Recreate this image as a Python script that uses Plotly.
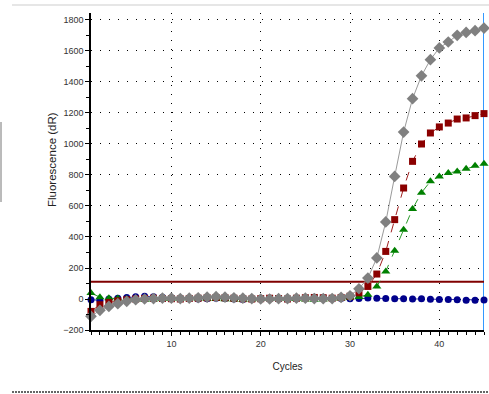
import plotly.graph_objects as go

# Amplification plot: fluorescence (dR) per cycle for four wells
cycles = list(range(1, 46))

blue_well = [-5, -8, 0, 5, 10, 15, 18, 15, 12, 8, 5, 3, 0, 2, 5, 3, 0, -3, 0, 3,
             5, 2, 0, 3, 8, 12, 10, 5, 3, 2, 4, 6, 5, 3, 2, 2, 0, 2, -2, -3,
             -3, -5, -8, -8, -6]
green_well = [38, 12, 5, 3, 0, -3, -5, -3, 0, 2, 3, 5, 3, 2, 0, -2, -3, -5, -3, 0,
              2, 3, 2, 0, -3, -5, -3, 0, 3, 8, 13, 28, 81, 178, 312, 447, 581, 686, 759, 791,
              813, 823, 841, 860, 873]
red_well = [-80, -37, -22, -12, -5, 0, 3, 5, 3, 2, 0, 3, 5, 8, 10, 8, 5, 2, 0, 2,
            5, 3, 0, 5, 8, 10, 8, 5, 10, 18, 40, 81, 161, 307, 512, 716, 888, 1000, 1071, 1110,
            1135, 1161, 1168, 1183, 1196]
gray_well = [-112, -73, -48, -30, -15, -5, 0, 3, 5, 5, 3, 5, 8, 12, 15, 12, 8, 5, 3, 0,
             0, 2, 3, 5, 5, 3, 2, 3, 10, 21, 66, 135, 265, 497, 791, 1077, 1292, 1440, 1544, 1620,
             1658, 1701, 1720, 1731, 1748]

threshold = 112
x_ticks = [10, 20, 30, 40]
y_ticks = list(range(-200, 1801, 200))

series = [
    (blue_well, "#00008b", "#3030a0", "dash", "circle", 7),
    (green_well, "#008000", "#2a9a2a", "dash", "triangle-up", 8),
    (red_well, "#8b0000", "#a02020", "dash", "square", 7),
    (gray_well, "#808080", "#9a9a9a", "solid", "diamond", 9),
]

fig = go.Figure()
for values, mcol, lcol, dash, symbol, size in series:
    fig.add_trace(go.Scatter(
        x=cycles, y=values, mode="lines+markers",
        line=dict(color=lcol, width=1, dash=dash),
        marker=dict(symbol=symbol, size=size, color=mcol, line=dict(width=0)),
        cliponaxis=False, showlegend=False,
    ))

# threshold line
fig.add_shape(type="line", xref="x", yref="y", x0=1, x1=45, y0=threshold, y1=threshold,
              line=dict(color="#800000", width=2), layer="below")
# cursor line at last cycle
fig.add_shape(type="line", xref="x", yref="paper", x0=45, x1=45, y0=0, y1=1,
              line=dict(color="#3399ff", width=2), layer="below")

# window frame decorations
fig.add_shape(type="line", xref="paper", yref="paper",
              x0=(12 - 91) / 393, x1=(489 - 91) / 393, y0=(330 - 5) / 317, y1=(330 - 5) / 317,
              line=dict(color="#e6e6e6", width=2))
fig.add_shape(type="line", xref="paper", yref="paper",
              x0=(12 - 91) / 393, x1=(489 - 91) / 393, y0=(330 - 392) / 317, y1=(330 - 392) / 317,
              line=dict(color="#666666", width=2, dash="2px,1px"))
fig.add_shape(type="line", xref="paper", yref="paper",
              x0=(1 - 91) / 393, x1=(1 - 91) / 393, y0=(330 - 122) / 317, y1=(330 - 202) / 317,
              line=dict(color="#777777", width=1))

# y-axis title
fig.add_annotation(text="Fluorescence (dR)", xref="paper", yref="paper",
                   x=(52 - 91) / 393, y=(330 - 160) / 317, textangle=-90, showarrow=False,
                   xanchor="center", yanchor="middle",
                   font=dict(family="Liberation Sans, Arial, sans-serif", size=11.5, color="#222"))

tick_font = dict(family="Liberation Sans, Arial, sans-serif", size=9, color="#333333")
grid = dict(showgrid=True, gridcolor="#000000", gridwidth=1, griddash="1px,8px")

fig.update_xaxes(
    range=[1, 45], tickvals=x_ticks, ticks="outside", ticklen=4, tickcolor="#000",
    minor=dict(dtick=1, tick0=1, ticks="outside", ticklen=3, tickcolor="#000", showgrid=False),
    showline=True, linecolor="#000000", linewidth=1.5, zeroline=False,
    tickfont=tick_font,
    title=dict(text="Cycles", font=dict(family="Liberation Sans, Arial, sans-serif", size=10, color="#222"), standoff=15),
    **grid,
)
fig.update_yaxes(
    range=[-200, 1845], tickvals=y_ticks, ticks="outside", ticklen=4, tickcolor="#000",
    minor=dict(dtick=100, ticks="outside", ticklen=3, tickcolor="#000", showgrid=False),
    showline=True, linecolor="#000000", linewidth=1.5, zeroline=False,
    tickfont=tick_font,
    **grid,
)

fig.update_layout(
    width=489, height=394,
    margin=dict(l=91, r=5, t=13, b=64),
    paper_bgcolor="white", plot_bgcolor="white",
)

fig.write_html("out.html")
